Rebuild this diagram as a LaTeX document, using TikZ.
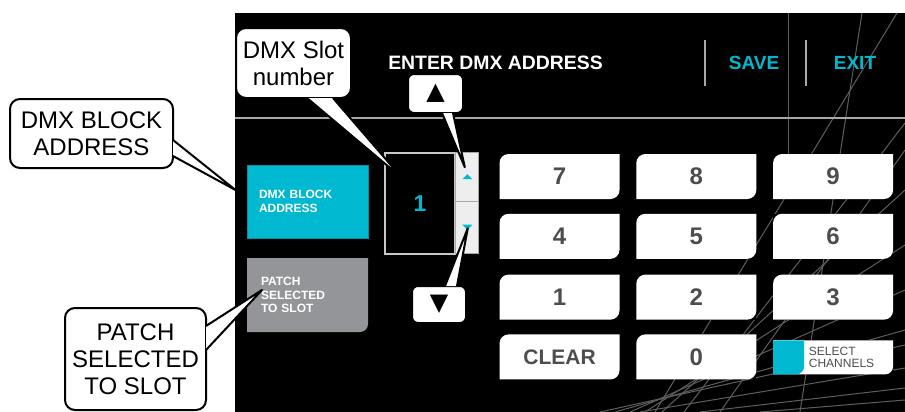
\documentclass[tikz,border=0pt]{standalone}
\usepackage{fontspec}
\setmainfont{Liberation Sans}
\newfontfamily\symfont{DejaVu Sans}
\usetikzlibrary{positioning,calc}
\definecolor{dmxcyan}{HTML}{00B8D0}
\definecolor{btngray}{HTML}{939598}
\definecolor{keytext}{HTML}{4D4D4D}
\definecolor{wireline}{HTML}{5E5E5E}
\definecolor{ruleline}{HTML}{A8A8A8}
\definecolor{slotline}{HTML}{C8C8C8}
\definecolor{spinfill}{HTML}{EEEEEE}
\tikzset{
  lbl/.style={font=\bfseries\fontsize{6}{6.75}\selectfont, text=white, align=left},
  leaf/.style={path picture={
    \fill[#1] (path picture bounding box.west)
      {[rounded corners=4.5pt] -- (path picture bounding box.north west) -- (path picture bounding box.north)}
      -- (path picture bounding box.north east) -- (path picture bounding box.east)
      {[rounded corners=4.5pt] -- (path picture bounding box.south east) -- (path picture bounding box.south)}
      -- (path picture bounding box.south west) -- cycle;}},
  notch/.style={path picture={
    \fill[#1] (path picture bounding box.east)
      {[rounded corners=4pt] -- (path picture bounding box.south east) -- (path picture bounding box.south)}
      -- (path picture bounding box.south west) -- (path picture bounding box.north west)
      -- (path picture bounding box.north east) -- cycle;}},
  key/.style={fill=black, leaf=white, minimum width=60pt, minimum height=22.5pt, inner sep=0pt,
    text=keytext, font=\bfseries\fontsize{12}{12}\selectfont},
  spin/.style={draw=ruleline, fill=spinfill, line width=0.5pt, minimum width=11.5pt,
    inner sep=0pt, outer sep=0pt},
  bubble/.style={draw=black, fill=white, line width=1pt, rounded corners=5pt, align=center,
    inner sep=0pt, font=\fontsize{12}{13.5}\selectfont},
  ptr/.style={draw=black, fill=white, line width=1pt, line join=round},
  wire/.style={wireline, line width=0.5pt},
  hdrsep/.style={ruleline, line width=0.8pt},
  menu/.style={text=dmxcyan, font=\bfseries\fontsize{9.5}{9.5}\selectfont},
}

\begin{document}
\begin{tikzpicture}[x=0.5pt,y=-0.5pt]
\useasboundingbox (0,0) rectangle (905,412);

% ---- panel ----
\fill[black] (235,13) rectangle (905,412);
\draw[wire] (788,13) -- (788,154);
\draw[wire] (862,13) -- (800,412);
\draw[wire] (897,13) -- (655,412);
\draw[wire] (905,123) -- (684,412);
\draw[wire] (905,190) -- (662,412);
\draw[wire] (905,245) -- (645,412);
\draw[wire] (905,290) -- (630,412);
\draw[wire] (905,330) -- (615,412);
\draw[wire] (600,412) -- (905,345);
\draw[wire] (640,412) -- (905,368);
\draw[wire] (700,412) -- (905,388);
\draw[wire] (760,412) -- (905,400);
\draw[wire] (905,150) -- (720,412);
\draw[ruleline, line width=1pt] (235,118) -- (905,118);
\draw[hdrsep] (705,40) -- (705,86);
\draw[hdrsep] (806,40) -- (806,86);

\node[text=white, font=\bfseries\fontsize{9.7}{9.7}\selectfont] (title) at (495.5,63) {ENTER DMX ADDRESS};
\node[menu] (save) at (754,63) {SAVE};
\node[menu] (exit) at (855,63) {EXIT};

% ---- left buttons ----
\node[fill=dmxcyan, draw=dmxcyan!80!black, line width=0.5pt, minimum width=60.5pt, minimum height=36.5pt,
  inner sep=0pt, lbl, text width=48.5pt] (dmxblk) at (307.5,201.5) {DMX BLOCK\\ADDRESS};
\node[fill=black, notch=btngray, minimum width=60.5pt, minimum height=37pt, inner sep=0pt, lbl,
  text width=46.5pt] (patch) at (307.5,295) {PATCH\\SELECTED\\TO SLOT};

% ---- slot number + spinner ----
\node[draw=slotline, line width=0.8pt, fill=black, minimum width=35pt, minimum height=50.5pt, inner sep=0pt,
  text=dmxcyan, font=\bfseries\fontsize{11.5}{11.5}\selectfont] (slotbox) at (420,203.5) {1};
\node[spin, minimum height=24.5pt, anchor=north west] (spinup) at (slotbox.north east) {};
\node[spin, minimum height=26pt, below=0pt of spinup] (spindn) {};
\fill[dmxcyan] ($(spinup)+(-5,2.5)$) -- ++(10,0) -- ++(-5,-5) -- cycle;
\fill[dmxcyan] ($(spindn)+(-5,-2.5)$) -- ++(10,0) -- ++(-5,5) -- cycle;

% ---- keypad ----
\node[key] (k7) at (559.5,176.5) {7};
\node[key, right=8pt of k7] (k8) {8};
\node[key, right=8pt of k8] (k9) {9};
\node[key, below=7pt of k7] (k4) {4};
\node[key, below=7pt of k8] (k5) {5};
\node[key, below=7pt of k9] (k6) {6};
\node[key, below=7.5pt of k4] (k1) {1};
\node[key, below=7.5pt of k5] (k2) {2};
\node[key, below=7.5pt of k6] (k3) {3};
\node[key, below=7pt of k1, font=\bfseries\fontsize{10.5}{10.5}\selectfont] (kclr) {CLEAR};
\node[key, below=7pt of k2] (k0) {0};
\node[fill=black, notch=white, minimum width=60pt, minimum height=17pt, inner sep=0pt,
  below=10pt of k3] (selch) {};
\node[fill=white, notch=dmxcyan, minimum width=15.5pt, minimum height=17pt, inner sep=0pt,
  anchor=west] (selsq) at (selch.west) {};
\node[right=2pt of selsq, align=left, inner sep=0pt, text=keytext,
  font=\fontsize{6}{6}\selectfont] (selchtxt) {SELECT\\CHANNELS};

% ---- callouts ----
\node[bubble, minimum width=81.5pt, minimum height=34.5pt] (cblock) at (91.5,133.5) {DMX BLOCK\\ADDRESS};
\coordinate (tipblk) at ($(dmxblk.west)+(-11,-11.5)$);
\filldraw[ptr] ($(cblock.east)+(-1,6.5)$) -- (tipblk) -- ($(cblock.east)+(-1,22.5)$);

\node[bubble, minimum width=57.5pt, minimum height=35pt] (cslot) at (293.5,63) {DMX Slot\\number};
\coordinate (tipslot) at ($(slotbox)+(-18,-25.5)$);
\filldraw[ptr] ($(cslot.south)+(13.5,-1)$) -- (tipslot) -- ($(cslot.south)+(39.5,-1)$);

\node[bubble, rounded corners=3pt, minimum width=27.5pt, minimum height=19.5pt] (cup) at (435.5,93.5) {\symfont ▲};
\coordinate (tipup) at ($(spinup)+(-2.5,-9.5)$);
\filldraw[ptr] ($(cup.south)+(6.5,-1)$) -- (tipup) -- ($(cup.south)+(17.5,-1)$);

\node[bubble, rounded corners=3pt, minimum width=27pt, minimum height=18.5pt] (cdown) at (439,304.5) {\symfont ▼};
\coordinate (tipdn) at ($(spindn)+(0.5,1)$);
\filldraw[ptr] ($(cdown.north)+(6,1)$) -- (tipdn) -- ($(cdown.north)+(18,1)$);

\node[bubble, minimum width=70.5pt, minimum height=51pt] (cpatch) at (135.5,359) {PATCH\\SELECTED\\TO SLOT};
\coordinate (tippatch) at ($(patch)+(-45.5,-5)$);
\filldraw[ptr] ($(cpatch.east)+(-1,-33)$) -- (tippatch) -- ($(cpatch.east)+(-1,-9)$);

\end{tikzpicture}
\end{document}
